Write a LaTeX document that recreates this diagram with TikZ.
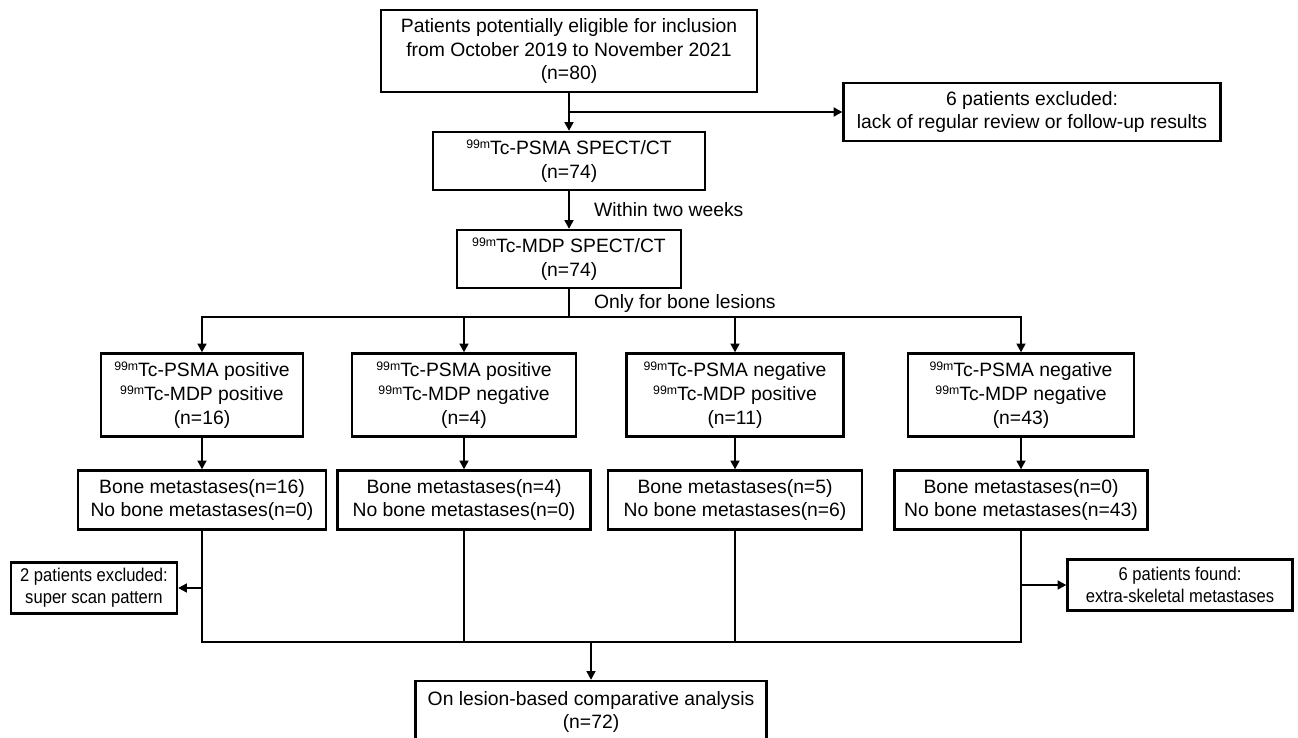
\documentclass[tikz,border=0pt]{standalone}
\usepackage{fontspec}
\setmainfont{Liberation Sans}
\newfontfamily\narrowsf[FakeStretch=0.9]{Liberation Sans}
\usepackage{tikz}
\usetikzlibrary{arrows.meta,positioning,calc}
\newcommand{\isot}{\raisebox{3.6pt}{\fontsize{7}{8}\selectfont 99m}Tc}

\begin{document}
\begin{tikzpicture}[
  x=0.02cm, y=-0.02cm,
  box/.style={draw,line width=1.3pt,align=center,inner sep=2pt,
              font=\fontsize{11}{13.5}\selectfont},
  sidebox/.style={box,font=\narrowsf\fontsize{10.5}{12.5}\selectfont},
  arr/.style={line width=1.3pt,-{Triangle[length=5pt,width=5pt]}},
  link/.style={line width=1.3pt},
  lbl/.style={midway,right=0.48cm,inner sep=0pt,font=\fontsize{11}{13.5}\selectfont},
]
  \clip (0,0) rectangle (1298,737);

  % screening
  \node[box,minimum width=7.52cm,minimum height=1.64cm] (top) at (569,51)
    {Patients potentially eligible for inclusion\\from October 2019 to November 2021\\(n=80)};
  \node[box,minimum width=7.54cm,minimum height=1.16cm] (excl) at (1032,112)
    {6 patients excluded:\\lack of regular review or follow-up results};
  \node[box,minimum width=5.44cm,minimum height=1.16cm] (psma) at (569,161)
    {\isot-PSMA SPECT/CT\\(n=74)};
  \node[box,minimum width=4.48cm,minimum height=1.16cm] (mdp) at (569,259)
    {\isot-MDP SPECT/CT\\(n=74)};
  \coordinate (split) at (569,317);

  % scan results
  \node[box,minimum width=4.04cm,minimum height=1.66cm] (pp) at (202,395)
    {\isot-PSMA positive\\\isot-MDP positive\\(n=16)};
  \node[box,minimum width=4.48cm,minimum height=1.66cm] (pn) at (464,395)
    {\isot-PSMA positive\\\isot-MDP negative\\(n=4)};
  \node[box,minimum width=4.34cm,minimum height=1.66cm] (np) at (735,395)
    {\isot-PSMA negative\\\isot-MDP positive\\(n=11)};
  \node[box,minimum width=4.52cm,minimum height=1.66cm] (nn) at (1021,395)
    {\isot-PSMA negative\\\isot-MDP negative\\(n=43)};

  % final diagnosis
  \node[box,minimum width=4.96cm,minimum height=1.18cm] (bpp) at (202,500)
    {Bone metastases(n=16)\\No bone metastases(n=0)};
  \node[box,minimum width=5.06cm,minimum height=1.18cm] (bpn) at (464,500)
    {Bone metastases(n=4)\\No bone metastases(n=0)};
  \node[box,minimum width=5.08cm,minimum height=1.18cm] (bnp) at (735,500)
    {Bone metastases(n=5)\\No bone metastases(n=6)};
  \node[box,minimum width=5.06cm,minimum height=1.18cm] (bnn) at (1021,500)
    {Bone metastases(n=0)\\No bone metastases(n=43)};

  \node[sidebox,minimum width=3.32cm,minimum height=1.02cm] (scan) at (94,588)
    {2 patients excluded:\\super scan pattern};
  \node[sidebox,minimum width=4.5cm,minimum height=1.02cm] (extra) at (1180,585)
    {6 patients found:\\extra-skeletal metastases};

  \coordinate (merge) at (591,642);
  \node[box,minimum width=7.02cm,minimum height=1.24cm] (final) at (591,712)
    {On lesion-based comparative analysis\\(n=72)};

  % connectors
  \draw[arr] (top) -- (psma);
  \draw[arr] (top.south |- excl.west) -- (excl.west);
  \draw[arr] (psma) -- (mdp) node[lbl] {Within two weeks};
  \draw[link] (mdp) -- (split) node[lbl] {Only for bone lesions};
  \draw[link,line cap=rect] (pp |- split) -- (nn |- split);
  \foreach \n in {pp,pn,np,nn} {
    \draw[arr] (\n |- split) -- (\n);
    \draw[arr] (\n) -- (b\n);
  }
  \draw[link] (bpp) -- (bpp |- merge) -- (bnn |- merge) -- (bnn);
  \draw[link] (bpn) -- (bpn |- merge);
  \draw[link] (bnp) -- (bnp |- merge);
  \draw[arr] (bpp |- scan.east) -- (scan.east);
  \draw[arr] (bnn |- extra.west) -- (extra.west);
  \draw[arr] (merge) -- (final);
\end{tikzpicture}
\end{document}
